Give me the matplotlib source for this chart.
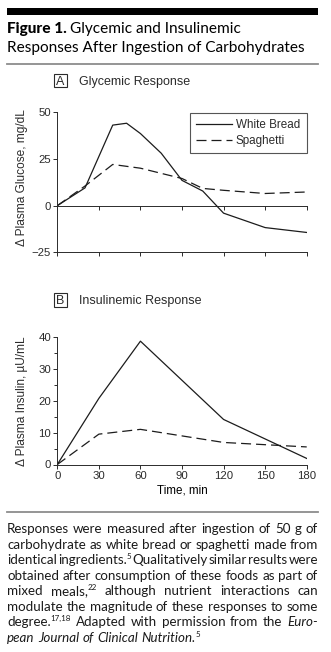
import matplotlib
matplotlib.use("Agg")
import matplotlib.pyplot as plt
from matplotlib.patches import Rectangle
from matplotlib.lines import Line2D

W, H, DPI = 331, 652, 100

# ---- data -------------------------------------------------------------
glyc_bread_t = [0, 20, 40, 50, 60, 75, 90, 105, 120, 150, 180]
glyc_bread = [0, 9.5, 43, 44, 38.5, 28, 13.5, 7.8, -4, -11.7, -14.3]
glyc_pasta_t = [0, 20, 40, 60, 90, 105, 120, 150, 180]
glyc_pasta = [0, 10.5, 22, 20, 14.5, 9.2, 8.2, 6.5, 7.3]

ins_t = [0, 30, 60, 120, 180]
ins_bread = [0, 20.7, 38.6, 14.1, 1.9]
ins_pasta = [0, 9.5, 11.0, 6.9, 5.5]

series_names = ["White Bread", "Spaghetti"]
time_ticks = [0, 30, 60, 90, 120, 150, 180]
glyc_ticks = [-25, 0, 25, 50]
ins_ticks = [0, 10, 20, 30, 40]

title_bold = "Figure 1."
title_line1 = "Glycemic and Insulinemic"
title_line2 = "Responses After Ingestion of Carbohydrates"
panel_a = ("A", "Glycemic Response")
panel_b = ("B", "Insulinemic Response")
glyc_ylabel = "\u0394 Plasma Glucose, mg/dL"
ins_ylabel = "\u0394 Plasma Insulin, \u00b5U/mL"
time_label = "Time, min"

# caption: each line is a list of words; each word is a list of (text, style)
N, S, I = "n", "s", "i"
caption = [
    "Responses were measured after ingestion of 50 g of",
    "carbohydrate as white bread or spaghetti made from",
    [[("identical", N)], [("ingredients.", N), ("5", S)], [("Qualitatively", N)],
     [("similar", N)], [("results", N)], [("were", N)]],
    "obtained after consumption of these foods as part of",
    [[("mixed", N)], [("meals,", N), ("22", S)], [("although", N)], [("nutrient", N)],
     [("interactions", N)], [("can", N)]],
    "modulate the magnitude of these responses to some",
    [[("degree.", N), ("17,18", S)], [("Adapted", N)], [("with", N)], [("permission", N)],
     [("from", N)], [("the", N)], [("Euro-", I)]],
    [[("pean", I)], [("Journal", I)], [("of", I)], [("Clinical", I)],
     [("Nutrition.", I), ("5", S)]],
]

# ---- styling ------------------------------------------------------------
CHART_FONT = ["Liberation Sans", "DejaVu Sans"]
TEXT_FONT = ["Lato", "DejaVu Sans"]
INK = "#2b2b2b"
LINE = "#1c1c1c"
RULE = "#8c8c8c"
plt.rcParams["font.family"] = CHART_FONT
plt.rcParams["text.color"] = INK
plt.rcParams["axes.edgecolor"] = INK
plt.rcParams["xtick.color"] = INK
plt.rcParams["ytick.color"] = INK
plt.rcParams["axes.linewidth"] = 0.7

fig = plt.figure(figsize=(W / DPI, H / DPI), dpi=DPI)
fig.patch.set_facecolor("white")
renderer = fig.canvas.get_renderer()


def fx(x):
    return x / W


def fy(y):
    return 1 - y / H


def text_w(s, **kw):
    t = fig.text(0, 0, s, **kw)
    w = t.get_window_extent(renderer).width
    t.remove()
    return w


def add_axes_px(left, top, right, bottom):
    return fig.add_axes([fx(left), fy(bottom), (right - left) / W, (bottom - top) / H])


# ---- header -------------------------------------------------------------
fig.add_artist(Rectangle((fx(6.7), fy(15)), fx(318.3) - fx(6.7), fy(8.3) - fy(15),
                         transform=fig.transFigure, fc="black", ec="none"))
for yy in (64, 511.5):
    fig.add_artist(Line2D([fx(6.7), fx(318.3)], [fy(yy), fy(yy)], transform=fig.transFigure,
                          color=RULE, lw=1.3))

# title size fitted to the second line width
base = 10
w2 = text_w(title_line2, fontsize=base, family=TEXT_FONT)
tsize = base * (299.0 / w2)
fig.text(fx(7), fy(33.3), title_bold, fontsize=tsize, family=TEXT_FONT, fontweight="black",
         color="black", va="baseline")
wb = text_w(title_bold + " ", fontsize=tsize, family=TEXT_FONT, fontweight="black")
fig.text(fx(7) + wb / W, fy(33.3), title_line1, fontsize=tsize, family=TEXT_FONT,
         color="black", va="baseline")
fig.text(fx(7), fy(51.7), title_line2, fontsize=tsize, family=TEXT_FONT, color="black",
         va="baseline")


def panel_heading(letter, label, top, bottom):
    fig.add_artist(Rectangle((fx(54.3), fy(bottom)), fx(66.7) - fx(54.3), fy(top) - fy(bottom),
                             transform=fig.transFigure, fc="white", ec=INK, lw=0.8))
    mid = (top + bottom) / 2
    fig.text(fx(60.5), fy(mid + 4.4), letter, fontsize=9, ha="center", va="baseline")
    fig.text(fx(79), fy(mid + 4.4), label, fontsize=9, ha="left", va="baseline")


panel_heading(*panel_a, 74, 87.3)
panel_heading(*panel_b, 293.3, 306.7)

# ---- panel A: glycemic response -------------------------------------------
axA = add_axes_px(57.3, 112, 306.7, 252.5)
axA.plot(glyc_bread_t, glyc_bread, color=LINE, lw=0.9, label=series_names[0])
axA.plot(glyc_pasta_t, glyc_pasta, color=LINE, lw=0.9, dashes=(8, 4), label=series_names[1])
axA.set_xlim(0, 180)
axA.set_ylim(-25, 50)
axA.set_yticks(glyc_ticks)
axA.set_xticks(time_ticks)
axA.tick_params(axis="x", labelbottom=False, direction="out", length=3, width=0.7)
axA.tick_params(axis="y", direction="out", length=3, width=0.7, labelsize=8.2, pad=1.5)
for sp in ("top", "right"):
    axA.spines[sp].set_visible(False)
axA.patch.set_alpha(0)
zero_axis = axA.secondary_xaxis(25 / 75)
zero_axis.set_xticks(time_ticks)
zero_axis.tick_params(direction="out", length=3, width=0.7, labelbottom=False, labeltop=False)
zero_axis.spines["bottom"].set_linewidth(0.7)
leg = axA.legend(loc="upper right", bbox_to_anchor=(fx(306.5), fy(112.5)),
                 bbox_transform=fig.transFigure, frameon=True, fancybox=False,
                 fontsize=8.4, handlelength=3.1, handletextpad=0.3, borderpad=0.55,
                 labelspacing=0.35, borderaxespad=0)
leg.get_frame().set_edgecolor(INK)
leg.get_frame().set_linewidth(0.8)
fig.text(fx(22), fy(178), glyc_ylabel, rotation=90, fontsize=8.6, ha="center", va="center")

# ---- panel B: insulinemic response ----------------------------------------
axB = add_axes_px(57.3, 336.7, 306.7, 464.5)
axB.plot(ins_t, ins_bread, color=LINE, lw=0.9)
axB.plot(ins_t, ins_pasta, color=LINE, lw=0.9, dashes=(8, 4))
axB.set_xlim(0, 180)
axB.set_ylim(0, 40)
axB.set_xticks(time_ticks)
axB.set_yticks(ins_ticks)
axB.set_yticks(range(5, 40, 10), minor=True)
axB.tick_params(axis="both", which="major", direction="out", length=3, width=0.7,
                labelsize=8.2, pad=1.5)
axB.tick_params(axis="y", which="minor", direction="out", length=2, width=0.7)
for sp in ("top", "right"):
    axB.spines[sp].set_visible(False)
axB.set_xlabel(time_label, fontsize=8.4, labelpad=3)
fig.text(fx(22), fy(401), ins_ylabel, rotation=90, fontsize=8.6, ha="center", va="center")

# ---- caption (justified) ------------------------------------------------------
def words_of(line):
    if isinstance(line, str):
        return [[(w, N)] for w in line.split()]
    return line


def seg_kw(style, size):
    kw = dict(family=TEXT_FONT, color="#1a1a1a")
    if style == S:
        kw["fontsize"] = size * 0.6
    else:
        kw["fontsize"] = size
    if style == I:
        kw["style"] = "italic"
    return kw


def word_width(word, size):
    return sum(text_w(t, **seg_kw(st, size)) for t, st in word)


left_px, right_px = 7.0, 318.0
target = right_px - left_px
base = 10.0
space_base = text_w("a a", **seg_kw(N, base)) - text_w("aa", **seg_kw(N, base))
fits = []
for k, line in enumerate(caption[:-1]):
    ws = words_of(line)
    tot = sum(word_width(w, base) for w in ws)
    fits.append(base * target / (tot + 0.4 * space_base * (len(ws) - 1)))
csize = min(min(fits), 10.4)
space = space_base * csize / base

baseline0, leading = 533.3, 15.5
for k, line in enumerate(caption):
    ws = words_of(line)
    widths = [word_width(w, csize) for w in ws]
    last = k == len(caption) - 1
    gap = space if last else (target - sum(widths)) / (len(ws) - 1)
    x = left_px
    yb = baseline0 + k * leading
    for w, wd in zip(ws, widths):
        xx = x
        for t, st in w:
            kw = seg_kw(st, csize)
            dy = -0.38 * csize * DPI / 72 if st == S else 0
            fig.text(fx(xx), fy(yb + dy), t, va="baseline", ha="left", **kw)
            xx += text_w(t, **kw)
        x += wd + gap

fig.savefig("out.png", dpi=DPI, facecolor="white")
